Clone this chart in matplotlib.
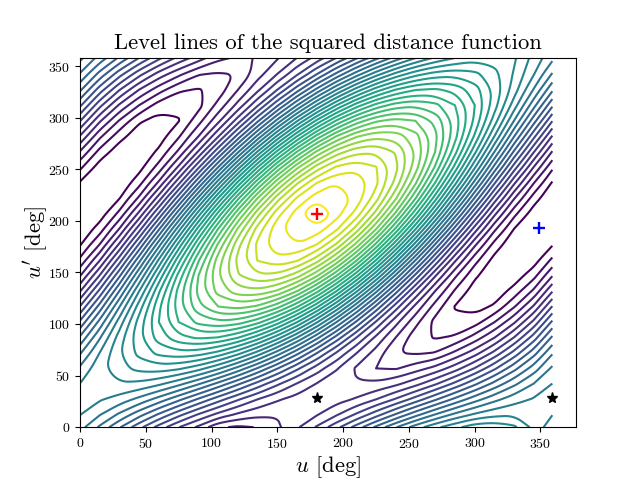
import numpy as np
from matplotlib import pyplot as plt
from matplotlib.path import Path

plt.rcParams['font.family'] = ['cmr10', 'DejaVu Sans']
plt.rcParams['mathtext.fontset'] = 'cm'
plt.rcParams['axes.formatter.use_mathtext'] = True

# grid, value = level number counted from the darkest line
u_deg = [0, 15, 30, 45, 60, 75, 90, 105, 120, 135, 150, 165, 180, 195, 210, 225,
         240, 255, 270, 285, 300, 315, 330, 345, 359]
v_deg = [0, 12, 27, 42, 57, 72, 87, 102, 117, 132, 147, 162, 177, 192, 207, 222,
         237, 252, 267, 282, 297, 312, 327, 342, 358]
levels_z = [
    [14.40, 12.83, 11.10, 9.31, 7.59, 6.04, 4.79, 3.20, 2.80, 3.05, 3.80, 4.85, 6.12, 7.69, 9.42, 11.21, 12.93, 14.48, 15.73, 16.70, 17.60, 17.70, 17.20, 15.67, 14.40],
    [15.02, 14.04, 12.78, 11.34, 9.80, 8.27, 6.86, 5.66, 4.76, 4.21, 4.06, 4.31, 4.94, 5.92, 7.18, 8.62, 10.16, 11.69, 13.10, 14.30, 15.20, 15.75, 15.90, 15.65, 15.02],
    [15.30, 15.11, 14.57, 13.70, 12.58, 11.26, 9.85, 8.44, 7.12, 6.00, 5.13, 4.59, 4.40, 4.59, 5.13, 6.00, 7.12, 8.44, 9.85, 11.26, 12.58, 13.70, 14.57, 15.11, 15.30],
    [15.02, 15.65, 15.90, 15.75, 15.20, 14.30, 13.10, 11.69, 10.16, 8.62, 7.18, 5.92, 4.94, 4.31, 4.06, 4.21, 4.76, 5.66, 6.86, 8.27, 9.80, 11.34, 12.78, 14.04, 15.02],
    [14.20, 15.62, 16.69, 17.33, 17.50, 17.17, 16.39, 15.19, 13.66, 11.91, 10.05, 8.22, 6.52, 5.10, 3.85, 3.00, 2.90, 3.55, 4.33, 5.53, 7.06, 8.81, 10.67, 12.50, 14.20],
    [12.88, 15.02, 16.88, 18.34, 19.30, 19.69, 19.48, 18.70, 17.38, 15.63, 13.56, 11.31, 9.04, 6.90, 5.04, 3.58, 2.05, 1.85, 2.05, 3.22, 4.54, 6.29, 8.36, 10.61, 12.88],
    [11.18, 13.89, 16.47, 18.72, 20.50, 21.68, 22.19, 21.98, 21.08, 19.54, 17.47, 15.01, 12.32, 9.61, 7.03, 4.78, 3.00, 1.40, 0.90, 1.15, 2.42, 3.96, 6.03, 8.49, 11.18],
    [9.19, 12.32, 15.47, 18.44, 21.01, 23.01, 24.31, 24.82, 24.49, 23.37, 21.51, 19.05, 16.15, 13.02, 9.87, 6.90, 4.33, 2.33, 0.65, 0.15, 0.50, 1.97, 3.83, 6.29, 9.19],
    [7.05, 10.39, 13.96, 17.50, 20.79, 23.58, 25.70, 27.00, 27.39, 26.84, 25.40, 23.15, 20.25, 16.91, 13.34, 9.80, 6.51, 3.72, 1.60, -0.05, -0.40, 0.15, 1.90, 4.15, 7.05],
    [4.91, 8.25, 12.03, 15.99, 19.85, 23.36, 26.27, 28.39, 29.57, 29.74, 28.87, 27.04, 24.35, 21.01, 17.23, 13.27, 9.41, 5.90, 2.99, 0.87, -0.50, -0.65, 0.39, 2.22, 4.91],
    [2.92, 6.05, 9.83, 14.00, 18.28, 22.36, 25.99, 28.90, 30.90, 31.86, 31.71, 30.45, 28.18, 25.05, 21.27, 17.10, 12.82, 8.74, 5.11, 2.20, 0.20, -0.76, -0.61, 0.65, 2.92],
    [1.22, 3.93, 7.50, 11.67, 16.16, 20.66, 24.86, 28.49, 31.28, 33.06, 33.70, 33.16, 31.46, 28.75, 25.18, 21.01, 16.52, 12.02, 7.82, 4.19, 1.40, -0.38, -1.02, -0.48, 1.22],
    [-0.10, 2.04, 5.19, 9.15, 13.64, 18.35, 22.97, 27.17, 30.68, 33.25, 34.71, 34.96, 33.98, 31.84, 28.69, 24.73, 20.24, 15.53, 10.91, 6.71, 3.20, 0.63, -0.83, -1.08, -0.10],
    [-0.92, 0.50, 3.08, 6.62, 10.90, 15.61, 20.44, 25.06, 29.14, 32.43, 34.68, 35.75, 35.56, 34.14, 31.56, 28.02, 23.74, 19.03, 14.20, 9.58, 5.50, 2.21, -0.04, -1.11, -0.92],
    [-1.20, -0.57, 1.29, 4.26, 8.12, 12.62, 17.45, 22.28, 26.78, 30.64, 33.61, 35.47, 37.60, 35.47, 33.61, 30.64, 26.78, 22.28, 17.45, 12.62, 8.12, 4.26, 1.29, -0.57, -1.20],
    [-0.92, -1.11, -0.04, 2.21, 5.50, 9.58, 14.20, 19.03, 23.74, 28.02, 31.56, 34.14, 35.56, 35.75, 34.68, 32.43, 29.14, 25.06, 20.44, 15.61, 10.90, 6.62, 3.08, 0.50, -0.92],
    [-0.10, -1.08, -0.83, 0.63, 3.20, 6.71, 10.91, 15.53, 20.24, 24.73, 28.69, 31.84, 33.98, 34.96, 34.71, 33.25, 30.68, 27.17, 22.97, 18.35, 13.64, 9.15, 5.19, 2.04, -0.10],
    [1.22, -0.48, -1.02, -0.38, 1.40, 4.19, 7.82, 12.02, 16.52, 21.01, 25.18, 28.75, 31.46, 33.16, 33.70, 33.06, 31.28, 28.49, 24.86, 20.66, 16.16, 11.67, 7.50, 3.93, 1.22],
    [2.92, 0.65, -0.61, -0.76, 0.20, 2.20, 5.11, 8.74, 12.82, 17.10, 21.27, 25.05, 28.18, 30.45, 31.71, 31.86, 30.90, 28.90, 25.99, 22.36, 18.28, 14.00, 9.83, 6.05, 2.92],
    [4.91, 2.22, 0.39, -0.65, -0.50, 0.87, 2.99, 5.90, 9.41, 13.27, 17.23, 21.01, 24.35, 27.04, 28.87, 29.74, 29.57, 28.39, 26.27, 23.36, 19.85, 15.99, 12.03, 8.25, 4.91],
    [7.05, 4.15, 1.90, 0.15, -0.40, -0.05, 1.60, 3.72, 6.51, 9.80, 13.34, 16.91, 20.25, 23.15, 25.40, 26.84, 27.39, 27.00, 25.70, 23.58, 20.79, 17.50, 13.96, 10.39, 7.05],
    [9.19, 6.29, 3.83, 1.97, 0.50, 0.15, 0.65, 2.33, 4.33, 6.90, 9.87, 13.02, 16.15, 19.05, 21.51, 23.37, 24.49, 24.82, 24.31, 23.01, 21.01, 18.44, 15.47, 12.32, 9.19],
    [11.18, 8.49, 6.03, 3.96, 2.42, 1.15, 0.90, 1.40, 3.00, 4.78, 7.03, 9.61, 12.32, 15.01, 17.47, 19.54, 21.08, 21.98, 22.19, 21.68, 20.50, 18.72, 16.47, 13.89, 11.18],
    [12.88, 10.61, 8.36, 6.29, 4.54, 3.22, 2.05, 1.85, 2.05, 3.58, 5.04, 6.90, 9.04, 11.31, 13.56, 15.63, 17.38, 18.70, 19.48, 19.69, 19.30, 18.34, 16.88, 15.02, 12.88],
    [14.27, 12.62, 10.82, 8.98, 7.24, 5.70, 4.49, 3.25, 2.85, 3.05, 3.90, 5.02, 6.39, 8.04, 9.84, 11.68, 13.42, 14.96, 16.17, 16.99, 17.60, 17.60, 17.15, 15.64, 14.27],
]
level_numbers = list(range(37))

max_point = (180, 207)
min_point = (349, 193)
saddle_u = [180, 359]
saddle_v = [28, 28]


def round_corners(pts, closed, passes=3):
    # corner cutting, only to take the facets off the drawn lines
    for _ in range(passes):
        a, b = (pts, np.roll(pts, -1, axis=0)) if closed else (pts[:-1], pts[1:])
        mid = np.empty((2 * len(a), 2))
        mid[0::2] = 0.75 * a + 0.25 * b
        mid[1::2] = 0.25 * a + 0.75 * b
        pts = mid if closed else np.vstack([pts[0], mid, pts[-1]])
    return np.vstack([pts, pts[0]]) if closed else pts


def smooth_path(path):
    verts, codes = [], []
    starts = np.flatnonzero(path.codes == Path.MOVETO).tolist() + [len(path.codes)]
    for s, e in zip(starts[:-1], starts[1:]):
        pts = path.vertices[s:e]
        closed = path.codes[e - 1] == Path.CLOSEPOLY or np.allclose(pts[0], pts[-1])
        if closed:
            pts = pts[:-1]
        if len(pts) > 2:
            pts = round_corners(pts, closed)
        verts.append(pts)
        codes += [Path.MOVETO] + [Path.LINETO] * (len(pts) - 1)
    return Path(np.vstack(verts), codes) if verts else path


fig, ax = plt.subplots()
cs = ax.contour(u_deg, v_deg, np.array(levels_z), levels=level_numbers, cmap='viridis')
cs.set_paths([smooth_path(p) if len(p.vertices) else p for p in cs.get_paths()])
ax.plot(*max_point, '+', color='red', ms=8.5, mew=1.7)
ax.plot(*min_point, '+', color='blue', ms=8.5, mew=1.7)
ax.plot(saddle_u, saddle_v, '*', color='black', ms=8, ls='none')

ax.set_xlim(0, 377)
ax.set_ylim(0, 358.3)
ax.set_xticks(range(0, 351, 50))
ax.set_yticks(range(0, 351, 50))
ax.set_title('Level lines of the squared distance function', fontsize=16.3)
ax.set_xlabel(r'$u$ [deg]', fontsize=16.3, labelpad=2.5)
ax.set_ylabel(r"$u'$ [deg]", fontsize=16.3, labelpad=-1.5)

plt.savefig('out.png', dpi=100)
